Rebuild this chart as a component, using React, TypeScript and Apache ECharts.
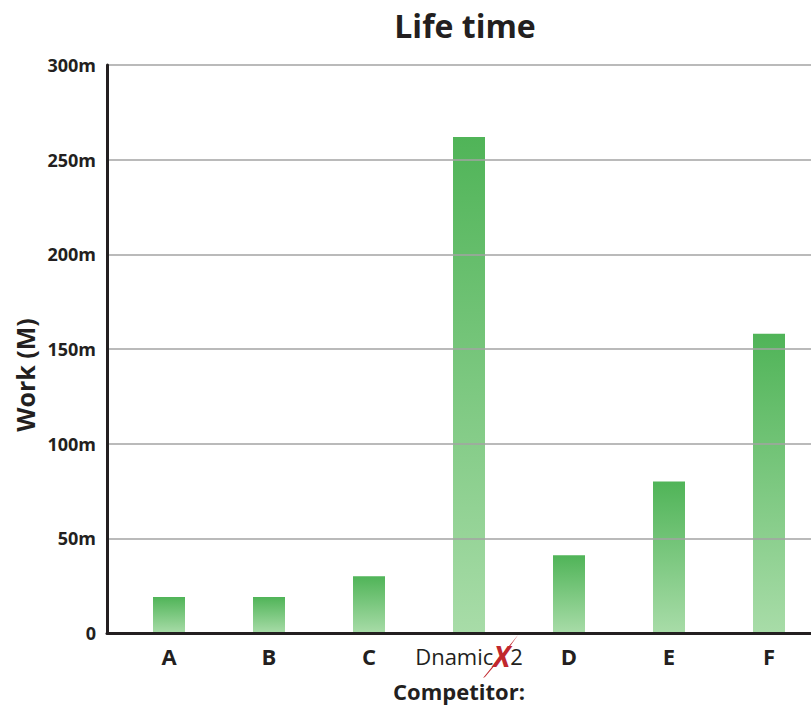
import React, { useEffect, useRef } from "react";
import * as echarts from "echarts";

const categories = ["A", "B", "C", "DnamicX2", "D", "E", "F"];
const workValues = [19, 19, 30, 262, 41, 80, 158];
const yTicks = [0, 50, 100, 150, 200, 250, 300];
const yTickLabels = ["0", "50m", "100m", "150m", "200m", "250m", "300m"];

const FONT = "'Open Sans', 'Noto Sans', sans-serif";
const DARK = "#231f20";

export default function App() {
  const ref = useRef<HTMLDivElement>(null);

  useEffect(() => {
    document.body.style.margin = "0";
    if (!ref.current) return;
    const chart = echarts.init(ref.current, null, { renderer: "svg" });
    const seriesData = categories.map((c, i) => [i, workValues[i]]);
    chart.setOption({
      animation: false,
      backgroundColor: "#ffffff",
      textStyle: { fontFamily: FONT },
      grid: { left: 107, right: 0, top: 65, bottom: 78, containLabel: false },
      xAxis: {
        type: "value",
        min: -0.62,
        max: 6.42,
        name: "Competitor:",
        nameLocation: "middle",
        nameGap: 47,
        nameTextStyle: { fontFamily: FONT, fontSize: 22, fontWeight: "bold", color: DARK },
        axisLine: { show: true, onZero: false, lineStyle: { color: DARK, width: 3 } },
        axisTick: { show: false },
        splitLine: { show: false },
        axisLabel: {
          customValues: categories.map((c, i) => i),
          margin: 10,
          fontFamily: FONT,
          fontSize: 22,
          fontWeight: "bold",
          color: DARK,
          lineHeight: 26,
          formatter: (v: number) => {
            const name = categories[Math.round(v)] ?? "";
            if (name === "DnamicX2") return "{n|Dnamic}{x|X}{n|2}";
            return name;
          },
          rich: {
            n: { fontFamily: FONT, fontSize: 22, fontWeight: "normal", color: DARK, lineHeight: 26 },
            x: { fontFamily: FONT, fontSize: 28, fontWeight: "bold", fontStyle: "italic", color: "#c1272d", lineHeight: 26 },
          },
        },
        z: 3,
      },
      yAxis: {
        type: "value",
        min: 0,
        max: 300,
        interval: 50,
        axisLine: { show: true, onZero: false, lineStyle: { color: DARK, width: 3 } },
        axisTick: { show: false },
        splitLine: { show: true, lineStyle: { color: "#a3a3a3", width: 1.5 } },
        axisLabel: {
          margin: 11,
          fontFamily: FONT,
          fontSize: 18,
          fontWeight: "bold",
          color: DARK,
          formatter: (v: number) => yTickLabels[yTicks.indexOf(v)] ?? String(v),
        },
        z: 3,
      },
      graphic: [
        {
          type: "text",
          x: 465,
          y: 25,
          style: {
            text: "Life time",
            fontFamily: FONT,
            fontSize: 32,
            fontWeight: "bold",
            fill: DARK,
            align: "center",
            verticalAlign: "middle",
          },
        },
        {
          type: "text",
          x: 25,
          y: 375,
          rotation: Math.PI / 2,
          style: {
            text: "Work (M)",
            fontFamily: FONT,
            fontSize: 25,
            fontWeight: "bold",
            fill: DARK,
            align: "center",
            verticalAlign: "middle",
          },
        },
        {
          type: "polygon",
          shape: { points: [[483, 678], [518, 635], [506, 652], [485, 677]] },
          style: { fill: "#c1272d" },
          z: 10,
        },
      ],
      series: [
        {
          type: "bar",
          data: seriesData,
          barWidth: 32,
          itemStyle: {
            color: new echarts.graphic.LinearGradient(0, 0, 0, 1, [
              { offset: 0, color: "#50b458" },
              { offset: 1, color: "#a8dca8" },
            ]),
          },
          z: 2,
        },
      ],
    });
    return () => chart.dispose();
  }, []);

  return <div ref={ref} style={{ width: 811, height: 711 }} />;
}
